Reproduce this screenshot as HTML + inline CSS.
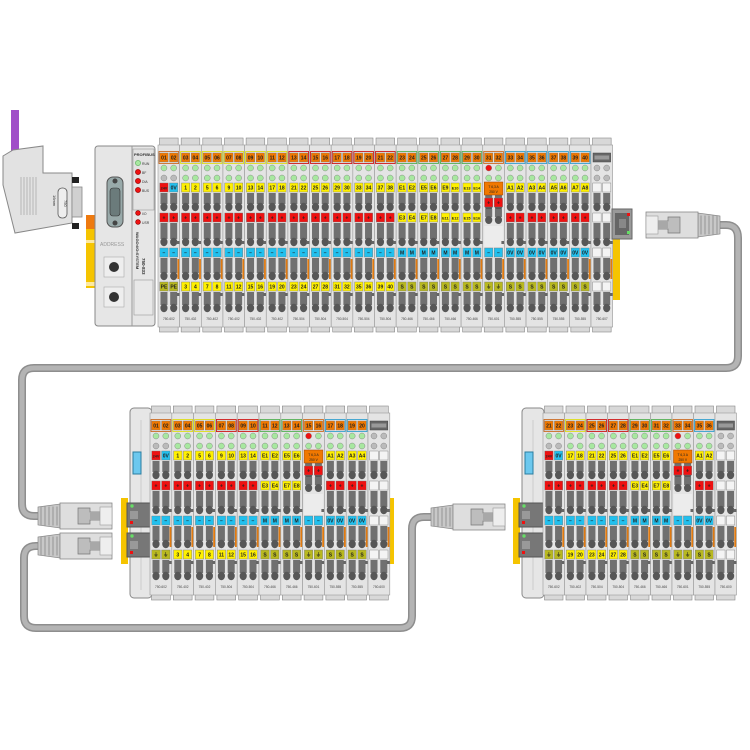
<!DOCTYPE html>
<html><head><meta charset="utf-8"><style>html,body{margin:0;padding:0;background:#fff}svg{display:block}text{font-family:"Liberation Sans",sans-serif}</style></head>
<body>
<svg id="s" width="750" height="750" viewBox="0 0 750 750" xmlns="http://www.w3.org/2000/svg">
<rect width="750" height="750" fill="#fff"/>
<g fill="none" stroke-linecap="round" stroke-linejoin="round">
<path d="M718 225 H726 Q738 225 738 238 V356 Q738 368 726 368 H34 Q22 368 22 380 V504 Q22 516 34 516 H40" stroke="#8e8e8e" stroke-width="8"/>
<path d="M718 225 H726 Q738 225 738 238 V356 Q738 368 726 368 H34 Q22 368 22 380 V504 Q22 516 34 516 H40" stroke="#b4b4b4" stroke-width="5"/>
<path d="M40 546 H36 Q24 546 24 558 V616 Q24 628 36 628 H400 Q412 628 412 616 V529 Q412 517 424 517 H432" stroke="#8e8e8e" stroke-width="8"/>
<path d="M40 546 H36 Q24 546 24 558 V616 Q24 628 36 628 H400 Q412 628 412 616 V529 Q412 517 424 517 H432" stroke="#b4b4b4" stroke-width="5"/>
</g>
<rect x="11" y="110" width="8" height="42" fill="#a04fc8"/>
<path d="M3 156 L13 150 L43 146 L43 173 L72 173 L72 223 L15 233 L3 185 Z" fill="#e2e2e2" stroke="#888" stroke-width="1"/>
<g stroke="#aaa" stroke-width="0.8"><line x1="21" y1="177" x2="21" y2="215"/><line x1="24" y1="177" x2="24" y2="215"/><line x1="27" y1="177" x2="27" y2="215"/><line x1="30" y1="177" x2="30" y2="215"/><line x1="33" y1="177" x2="33" y2="215"/><line x1="36" y1="177" x2="36" y2="215"/></g>
<rect x="72" y="187" width="10" height="30" fill="#d0d0d0" stroke="#888" stroke-width="0.8"/>
<rect x="72" y="177" width="7" height="6" fill="#222"/><rect x="72" y="223" width="7" height="6" fill="#222"/>
<rect x="58" y="188" width="9" height="30" rx="4" fill="#eee" stroke="#555" stroke-width="0.8"/>
<text x="0" y="0" font-size="4" transform="translate(64,200) rotate(90)" fill="#333">750</text>
<text x="0" y="0" font-size="4" transform="translate(53,195) rotate(90)" fill="#333">16mm</text>
<rect x="86" y="215" width="11" height="73" fill="#f5c400"/>
<rect x="86" y="215" width="11" height="14" fill="#ee7a10"/>
<rect x="86" y="240" width="11" height="3" fill="#fde9a0"/><rect x="86" y="282" width="11" height="4" fill="#fde9a0"/>
<rect x="95" y="146" width="60" height="180" rx="3" fill="#e6e6e6" stroke="#888"/>
<line x1="132" y1="146" x2="132" y2="326" stroke="#999"/>
<rect x="133" y="149" width="21" height="61" fill="#e2e2e2" stroke="#999" stroke-width="0.6"/>
<text x="134" y="156" font-size="4" font-weight="bold" fill="#333">PROFIBUS</text>
<circle cx="138" cy="163" r="2.6" fill="#a8e8a0" stroke="#5a5" stroke-width="0.6"/><text x="142" y="165" font-size="3.4" fill="#333">RUN</text>
<circle cx="138" cy="172" r="2.6" fill="#e11" stroke="#800" stroke-width="0.6"/><text x="142" y="174" font-size="3.4" fill="#333">BF</text>
<circle cx="138" cy="181" r="2.6" fill="#e11" stroke="#800" stroke-width="0.6"/><text x="142" y="183" font-size="3.4" fill="#333">DIA</text>
<circle cx="138" cy="190" r="2.6" fill="#e11" stroke="#800" stroke-width="0.6"/><text x="142" y="192" font-size="3.4" fill="#333">BUS</text>
<circle cx="138" cy="213" r="2.4" fill="#e11" stroke="#800" stroke-width="0.6"/><text x="142" y="215" font-size="3.4" fill="#333">I/O</text>
<circle cx="138" cy="222" r="2.4" fill="#e11" stroke="#800" stroke-width="0.6"/><text x="142" y="224" font-size="3.4" fill="#333">USR</text>
<text font-size="4" font-weight="bold" fill="#333" transform="translate(136,232) rotate(90)">WAGO•I/O•SYSTEM</text>
<text font-size="4.5" font-weight="bold" fill="#333" transform="translate(142,258) rotate(90)">750-833</text>
<rect x="134" y="280" width="19" height="35" fill="#e8e8e8" stroke="#999" stroke-width="0.6"/>
<rect x="107" y="177" width="16" height="50" rx="6" fill="#9aa" stroke="#555"/>
<rect x="110" y="188" width="10" height="28" rx="3" fill="#6b7b7b" stroke="#333" stroke-width="0.6"/>
<circle cx="115" cy="181" r="2.5" fill="#444"/><circle cx="115" cy="223" r="2.5" fill="#444"/>
<text x="100" y="246" font-size="5" fill="#999">ADDRESS</text>
<rect x="104" y="257" width="20" height="20" fill="#eee" stroke="#aaa" stroke-width="0.6"/><circle cx="114" cy="267" r="5" fill="#333"/>
<rect x="104" y="287" width="20" height="20" fill="#eee" stroke="#aaa" stroke-width="0.6"/><circle cx="114" cy="297" r="5" fill="#333"/>
<rect x="613" y="238" width="7" height="62" fill="#f5c400"/>
<g id="cpl">
<rect x="121" y="498" width="7" height="66" fill="#f5c400"/>
<rect x="130" y="408" width="22" height="190" rx="4" fill="#e6e6e6" stroke="#888"/>
<line x1="141" y1="420" x2="141" y2="590" stroke="#ccc"/>
<rect x="133" y="452" width="8" height="22" fill="#6cc8ee" stroke="#2a7da0"/>
<rect x="127" y="503" width="24" height="24" fill="#777" stroke="#555"/>
<rect x="130" y="511" width="8" height="8" fill="#999"/><circle cx="132" cy="506" r="1.7" fill="#6d6"/><rect x="130" y="521" width="3" height="3" fill="#e11"/>
<rect x="127" y="533" width="24" height="24" fill="#777" stroke="#555"/>
<rect x="130" y="541" width="8" height="8" fill="#999"/><circle cx="132" cy="536" r="1.7" fill="#6d6"/><rect x="130" y="551" width="3" height="3" fill="#e11"/>
</g>
<use href="#cpl" transform="translate(392,0)"/>
<rect x="389" y="498" width="5" height="66" fill="#f5c400"/>
<g id="mods"></g>
<rect x="612" y="209" width="20" height="30" fill="#999" stroke="#666"/>
<rect x="615" y="213" width="14" height="22" fill="#666"/><rect x="619" y="219" width="7" height="9" fill="#888"/>
<rect x="627" y="213" width="3" height="3" fill="#e11"/><rect x="627" y="231" width="3" height="3" fill="#6d6"/>
<g id="plugs"></g>
</svg>
<script>
(function(){
var NS="http://www.w3.org/2000/svg";
var G=document.getElementById("mods");
function el(t,a,txt,p){var e=document.createElementNS(NS,t);for(var k in a)e.setAttribute(k,a[k]);if(txt!=null)e.textContent=txt;(p||G).appendChild(e);return e;}
var C={o:"#f07800",y:"#fff000",r:"#ee1111",b:"#22c0ee",g:"#b8b820",w:"#f4f4f4"};
function lab(x,y,w,h,col,t){el("rect",{x:x,y:y,width:w,height:h,fill:C[col],stroke:"#777","stroke-width":0.4});if(t)el("text",{x:x+w/2,y:y+h-2.3,"font-size":t.length>2?3.8:5,"font-weight":"bold","text-anchor":"middle",fill:"#222"},t);}
function module(x,w,dy,m){
 var Y=function(v){return v+dy;};
 el("rect",{x:x+1.5,y:Y(138),width:w-3,height:10,fill:"#d8d8d8",stroke:"#888","stroke-width":0.6});
 el("rect",{x:x+1.5,y:Y(323),width:w-3,height:9,fill:"#d8d8d8",stroke:"#888","stroke-width":0.6});
 el("rect",{x:x,y:Y(145),width:w,height:182,fill:"#e4e4e4",stroke:"#999","stroke-width":0.6});
 var hw=w/2-2.5,c1=x+1.8,c2=x+w/2+0.7;
 if(m.end){el("rect",{x:x+2,y:Y(153),width:w-4,height:9,fill:"#666",stroke:"#444","stroke-width":0.5});el("rect",{x:x+3.5,y:Y(155.5),width:w-7,height:4,fill:"#999"});}
 else{el("rect",{x:x+1,y:Y(151.5),width:w-2,height:12,fill:"none",stroke:m.gc||"#c86010","stroke-width":0.8});lab(c1,Y(153),hw,9,"o",m.t[0]);lab(c2,Y(153),hw,9,"o",m.t[1]);}
 var cx=[c1+hw/2,c2+hw/2];
 for(var i=0;i<2;i++){
  var l1=m.end?"#bbb":(m.fuse&&i==0?"#e11":"#a8e8a0");
  el("circle",{cx:cx[i],cy:Y(168),r:3,fill:l1,stroke:"#777","stroke-width":0.4});
  el("circle",{cx:cx[i],cy:Y(178),r:3,fill:(m.end||m.pw)?"#bbb":"#a8e8a0",stroke:"#777","stroke-width":0.4});
 }
 var segs=[[193,212],[223,247],[258,281],[292,313]];
 segs.forEach(function(s,si){
  for(var i=0;i<2;i++){
   if(m.fuse&&si==1){el("rect",{x:cx[i]-3.5,y:Y(209),width:7,height:8,fill:"#707070"});el("ellipse",{cx:cx[i],cy:Y(220),rx:3.6,ry:4,fill:"#575757"});continue;}
   el("rect",{x:cx[i]-3.5,y:Y(s[0]),width:7,height:s[1]-s[0]-8,fill:"#707070"});
   el("ellipse",{cx:cx[i],cy:Y(s[1]-5),rx:3.6,ry:4.2,fill:"#575757"});
  }
 });
 if(m.fuse){el("rect",{x:x+1.5,y:Y(226),width:w-3,height:21,fill:"#ececec"});}
 var rows=[183,213,248,282];
 for(var r=0;r<4;r++){
  var L=m.rows?m.rows[r]:null;
  if(m.fuse&&r==0){el("rect",{x:x+1.5,y:Y(182),width:w-3,height:13,fill:"#f07800",stroke:"#a04000","stroke-width":0.5});el("text",{x:x+w/2,y:Y(188),"font-size":3.3,"text-anchor":"middle",fill:"#222"},"T 6,3 A");el("text",{x:x+w/2,y:Y(193),"font-size":3.3,"text-anchor":"middle",fill:"#222"},"250 V");continue;}
  if(m.fuse&&r==1){lab(c1,Y(198),hw,9,"r","+");lab(c2,Y(198),hw,9,"r","+");continue;}
  var yy=rows[r];
  if(m.end){lab(c1,Y(yy),hw,9,"w","");lab(c2,Y(yy),hw,9,"w","");continue;}
  lab(c1,Y(yy),hw,9,L[0],L[1]);lab(c2,Y(yy),hw,9,L[2],L[3]);
 }
 el("rect",{x:x+w-2.2,y:Y(259),width:1.8,height:20,fill:"#e07a10"});
 el("rect",{x:x+w-3,y:Y(241),width:3,height:3,fill:"#666"});
 el("rect",{x:x+w-3,y:Y(293),width:3,height:3,fill:"#666"});
 el("text",{x:x+w/2,y:Y(320),"font-size":3.2,"text-anchor":"middle",fill:"#444"},m.n);
}
function pw(t,pe){return {t:t,pw:1,n:"750-602",rows:[["r","24V","b","0V"],["r","+","r","+"],["b","−","b","−"],["g",pe,"g",pe]]};}
function di(t,a,b,n,gc){return {t:t,gc:gc,n:n||"750-402",rows:[["y",a[0],"y",a[1]],["r","+","r","+"],["b","−","b","−"],["y",b[0],"y",b[1]]]};}
function ai(t,a,b){return {t:t,gc:"#4a4",n:"750-466",rows:[["y",a[0],"y",a[1]],["y",b[0],"y",b[1]],["b","M","b","M"],["g","S","g","S"]]};}
function fu(t){return {t:t,fuse:1,n:"750-601",rows:[0,0,["b","−","b","−"],["g","⏚","g","⏚"]]};}
function ao(t,a){return {t:t,gc:"#29c",n:"750-555",rows:[["y",a[0],"y",a[1]],["r","+","r","+"],["b","0V","b","0V"],["g","S","g","S"]]};}
function pad(n){return (n<10?"0":"")+n;}
function build(x0,w,dy,list){list.forEach(function(m,i){module(x0+i*w,w,dy,m);});}
var topR=[pw(["01","02"],"PE")],k=3,d=1;
for(var i=0;i<10;i++){topR.push(di([pad(k),pad(k+1)],[""+d,""+(d+1)],[""+(d+2),""+(d+3)],i<5?"750-402":"750-504",i<5?"#dd0":"#c00"));k+=2;d+=4;}
topR.push(ai(["23","24"],["E1","E2"],["E3","E4"]));topR.push(ai(["25","26"],["E5","E6"],["E7","E8"]));
topR.push(ai(["27","28"],["E9","E10"],["E11","E12"]));topR.push(ai(["29","30"],["E13","E14"],["E15","E16"]));
topR.push(fu(["31","32"]));
topR.push(ao(["33","34"],["A1","A2"]));topR.push(ao(["35","36"],["A3","A4"]));topR.push(ao(["37","38"],["A5","A6"]));topR.push(ao(["39","40"],["A7","A8"]));
topR.push({end:1,n:"750-607"});
build(158,21.65,0,topR);
var bl=[pw(["01","02"],"⏚"),di(["03","04"],["1","2"],["3","4"],"750-402","#dd0"),di(["05","06"],["5","6"],["7","8"],"750-402","#dd0"),di(["07","08"],["9","10"],["11","12"],"750-504","#c00"),di(["09","10"],["13","14"],["15","16"],"750-504","#c00"),
ai(["11","12"],["E1","E2"],["E3","E4"]),ai(["13","14"],["E5","E6"],["E7","E8"]),fu(["15","16"]),ao(["17","18"],["A1","A2"]),ao(["19","20"],["A3","A4"]),{end:1,n:"750-600"}];
build(150,21.8,268,bl);
var br=[pw(["21","22"],"⏚"),di(["23","24"],["17","18"],["19","20"],"750-402","#dd0"),di(["25","26"],["21","22"],["23","24"],"750-504","#c00"),di(["27","28"],["25","26"],["27","28"],"750-504","#c00"),
ai(["29","30"],["E1","E2"],["E3","E4"]),ai(["31","32"],["E5","E6"],["E7","E8"]),fu(["33","34"]),ao(["35","36"],["A1","A2"]),{end:1,n:"750-600"}];
build(543,21.5,268,br);
var P=document.getElementById("plugs");
function plug(tr){
 var g=el("g",{transform:tr},null,P);
 el("path",{d:"M0 3 L22 0 L22 24 L0 21 Z",fill:"#c8c8c8",stroke:"#888","stroke-width":0.7},null,g);
 for(var i=0;i<5;i++)el("line",{x1:3+i*4,y1:2.5,x2:3+i*4,y2:21.5,stroke:"#888","stroke-width":0.8},null,g);
 el("rect",{x:22,y:-1,width:52,height:26,fill:"#dedede",stroke:"#888","stroke-width":0.8},null,g);
 el("path",{d:"M40 4 H52 V8 H62 V16 H52 V20 H40 Z",fill:"#bdbdbd",stroke:"#777","stroke-width":0.7},null,g);
 el("path",{d:"M52 8 H62 V16 H52 Z",fill:"#a8a8a8"},null,g);
 el("rect",{x:62,y:3,width:12,height:18,fill:"#eee",stroke:"#999","stroke-width":0.6},null,g);
}
plug("translate(720,213) scale(-1,1)");
plug("translate(38,504)");
plug("translate(38,534)");
plug("translate(431,505)");
})();
</script>
</body></html>
